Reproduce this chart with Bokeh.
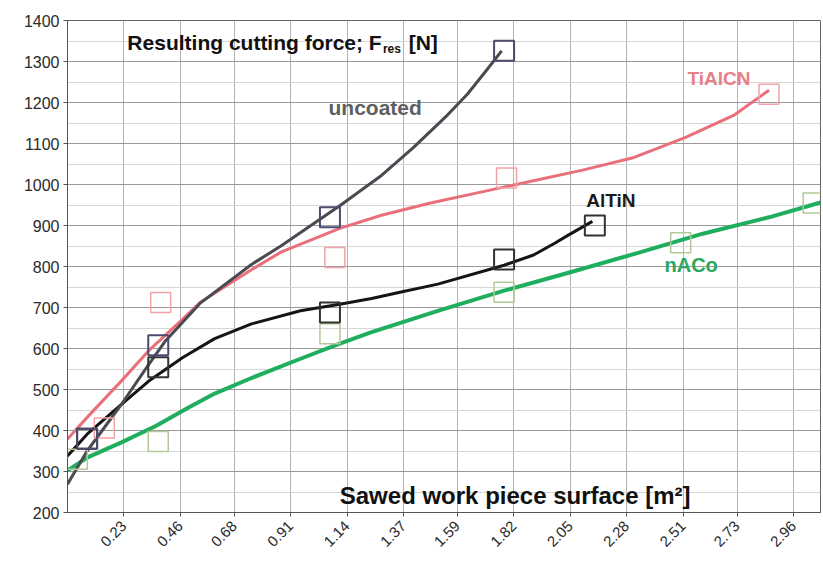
import math
from bokeh.plotting import figure
from bokeh.models import FixedTicker, Range1d, Label
from bokeh.embed import file_html
from bokeh.resources import INLINE

# ---------------- data ----------------
x_tick_labels = ["0.23", "0.46", "0.68", "0.91", "1.14", "1.37", "1.59",
                 "1.82", "2.05", "2.28", "2.51", "2.73", "2.96"]
y_ticks = [200, 300, 400, 500, 600, 700, 800, 900, 1000, 1100, 1200, 1300, 1400]
y_minor = [250, 350, 450, 550, 650, 750, 850, 950, 1050, 1150, 1250, 1350]

# trend curves
uncoated_x = [0.0, 0.08, 0.22, 0.33, 0.40, 0.54, 0.75, 0.87, 1.11, 1.28, 1.41, 1.55, 1.63, 1.71, 1.77]
uncoated_y = [269, 350, 464, 560, 619, 710, 805, 850, 948, 1022, 1090, 1170, 1220, 1280, 1326]

tialcn_x = [0.0, 0.08, 0.22, 0.33, 0.47, 0.54, 0.75, 0.87, 1.11, 1.28, 1.48, 1.69, 1.89, 2.10, 2.31, 2.52, 2.72, 2.86]
tialcn_y = [379, 432, 521, 594, 672, 712, 792, 835, 893, 925, 955, 982, 1008, 1035, 1066, 1115, 1170, 1230]

altin_x = [0.0, 0.08, 0.22, 0.33, 0.47, 0.60, 0.75, 0.95, 1.11, 1.24, 1.36, 1.51, 1.78, 1.90, 1.99, 2.04, 2.14]
altin_y = [338, 391, 464, 520, 578, 624, 660, 692, 708, 722, 738, 757, 803, 828, 858, 876, 910]

naco_x = [0.0, 0.08, 0.22, 0.36, 0.49, 0.60, 0.75, 0.95, 1.11, 1.24, 1.51, 1.78, 2.05, 2.33, 2.59, 2.86, 3.07]
naco_y = [302, 334, 371, 411, 455, 490, 528, 575, 612, 640, 692, 741, 786, 834, 880, 920, 956]

# measured points (hollow squares)
uncoated_pts_x = [0.08, 0.37, 1.07, 1.78]
uncoated_pts_y = [380, 608, 920, 1326]
tialcn_pts_x = [0.15, 0.38, 1.09, 1.79, 2.86]
tialcn_pts_y = [406, 712, 822, 1016, 1220]
altin_pts_x = [0.08, 0.37, 1.07, 1.78, 2.15]
altin_pts_y = [380, 554, 688, 817, 900]
naco_pts_x = [0.04, 0.37, 1.07, 1.78, 2.50, 3.04]
naco_pts_y = [330, 373, 636, 737, 858, 955]

FONT = "Liberation Sans"

p = figure(width=823, height=562,
           x_range=Range1d(0, 3.07), y_range=Range1d(200, 1400),
           output_backend="svg", toolbar_location=None,
           min_border_left=67, min_border_right=3,
           min_border_top=20, min_border_bottom=50)

p.background_fill_color = "white"
p.border_fill_color = "white"
p.outline_line_color = "#666666"
p.outline_line_width = 1

x_ticks = [float(s) for s in x_tick_labels]
p.xaxis.ticker = FixedTicker(ticks=x_ticks)
p.xaxis.major_label_overrides = {t: s for t, s in zip(x_ticks, x_tick_labels)}
p.xaxis.major_label_orientation = math.pi / 4
p.yaxis.ticker = FixedTicker(ticks=y_ticks, minor_ticks=y_minor)

for ax in (p.xaxis, p.yaxis):
    ax.axis_line_color = "#555555"
    ax.major_tick_line_color = "#555555"
    ax.major_tick_out = 4
    ax.major_tick_in = 0
    ax.minor_tick_line_color = None
    ax.major_label_text_font = FONT
    ax.major_label_text_color = "#2a2a2a"
p.yaxis.major_label_standoff = 4
p.xaxis.major_label_standoff = 7
p.yaxis.major_label_text_font_size = "16px"
p.xaxis.major_label_text_font_size = "15px"

p.xgrid.ticker = FixedTicker(ticks=x_ticks)
p.xgrid.grid_line_color = "#b4b4b4"
p.ygrid.grid_line_color = "#9a9a9a"
p.ygrid.minor_grid_line_color = "#d6d6d6"

# curves
p.line(naco_x, naco_y, line_color="#1fae5e", line_width=4, line_join="round")
p.line(tialcn_x, tialcn_y, line_color="#ea6f7a", line_width=3, line_join="round")
p.line(altin_x, altin_y, line_color="#151515", line_width=3, line_join="round")
p.line(uncoated_x, uncoated_y, line_color="#4a4a52", line_width=3, line_join="round")

# point markers
p.scatter(naco_pts_x, naco_pts_y, marker="square", size=20, fill_color=None,
          line_color="#b3c99a", line_width=1.5)
p.scatter(tialcn_pts_x, tialcn_pts_y, marker="square", size=20, fill_color=None,
          line_color="#f0a3a8", line_width=1.5)
p.scatter(altin_pts_x, altin_pts_y, marker="square", size=20, fill_color=None,
          line_color="#333333", line_width=2)
p.scatter(uncoated_pts_x, uncoated_pts_y, marker="square", size=20, fill_color=None,
          line_color="#4b4b70", line_width=2)

# series labels
def lab(x, y, t, color, size, align="left", baseline="middle"):
    p.add_layout(Label(x=x, y=y, text=t, text_font=FONT, text_font_size=size,
                       text_font_style="bold", text_color=color,
                       text_align=align, text_baseline=baseline))

lab(1.064, 1187, "uncoated", "#5f5f5f", "21px")
lab(2.528, 1258, "TiAlCN", "#e77f86", "19px")
lab(2.115, 960, "AlTiN", "#1a1a1a", "19px")
lab(2.434, 804, "nACo", "#2aa862", "20px")

# titles inside plot
lab(1.281, 1346, "Resulting cutting force; F", "#111111", "21px", align="right", baseline="alphabetic")
lab(1.286, 1331, "res", "#111111", "12px", baseline="alphabetic")
lab(1.391, 1346, "[N]", "#111111", "21px", baseline="alphabetic")
lab(1.110, 241, "Sawed work piece surface [m\u00b2]", "#111111", "24px", baseline="alphabetic")

open("out.html", "w").write(file_html(p, INLINE))
